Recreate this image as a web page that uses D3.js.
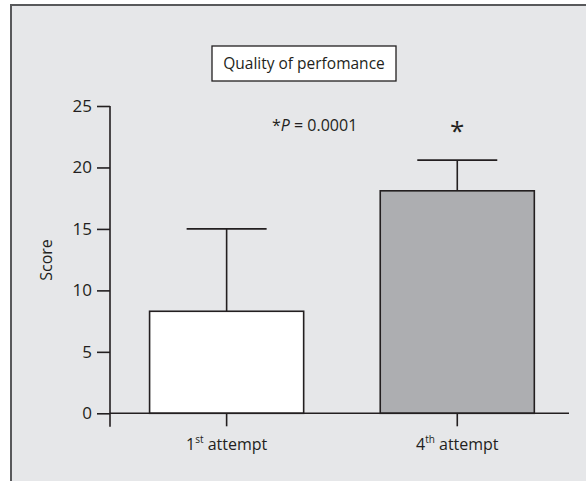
<!DOCTYPE html>
<html><head><meta charset="utf-8">
<script src="https://cdn.jsdelivr.net/npm/d3@7"></script>
<style>
html,body{margin:0;padding:0;background:#fff;}
svg{display:block;font-family:"Open Sans","Noto Sans",sans-serif;}
</style></head>
<body>
<svg id="chart" width="586" height="481"></svg>
<script>
const categories = ["1st", "4th"];
const superscripts = ["st", "th"];
const labelBase = ["1", "4"];
const means = [8.3, 18.1];
const errorTop = [15.0, 20.6];
const barFills = ["#ffffff", "#adaeb1"];
const yTicks = [0, 5, 10, 15, 20, 25];
const titleText = "Quality of perfomance";
const yLabel = "Score";

const svg = d3.select("#chart");
svg.append("rect").attr("x", 11).attr("y", 5).attr("width", 600).attr("height", 500)
  .attr("fill", "#e6e7e9").attr("stroke", "#58595b").attr("stroke-width", 2);

const y = d3.scaleLinear().domain([0, 25]).range([413.3, 106]);
const x = d3.scaleBand().domain(categories).range([111.3, 572.6]).paddingInner(0.332).paddingOuter(0.166);

const axisColor = "#231f20";
const txtColor = "#231f20";

categories.forEach((c, i) => {
  const cx = x(c) + x.bandwidth() / 2;
  svg.append("line").attr("x1", cx).attr("x2", cx).attr("y1", y(means[i])).attr("y2", y(errorTop[i]))
    .attr("stroke", axisColor).attr("stroke-width", 1.6);
  svg.append("line").attr("x1", cx - 40).attr("x2", cx + 40).attr("y1", y(errorTop[i])).attr("y2", y(errorTop[i]))
    .attr("stroke", axisColor).attr("stroke-width", 1.6);
  svg.append("rect").attr("x", x(c)).attr("y", y(means[i])).attr("width", x.bandwidth())
    .attr("height", y(0) - y(means[i])).attr("fill", barFills[i]).attr("stroke", axisColor).attr("stroke-width", 1.6);
});

const yAxis = d3.axisLeft(y).tickValues(yTicks).tickSize(13).tickPadding(5).tickSizeOuter(0);
const gy = svg.append("g").attr("transform", "translate(110,0)").call(yAxis);
gy.attr("font-size", null).attr("font-family", null);
gy.select(".domain").remove();
gy.append("line").attr("x1", 0).attr("x2", 0).attr("y1", y(25)).attr("y2", 426.7)
  .attr("stroke", axisColor).attr("stroke-width", 1.6);
gy.selectAll(".tick line").attr("stroke", axisColor).attr("stroke-width", 1.6);
gy.selectAll(".tick text").attr("fill", txtColor).attr("font-size", 17);

const xAxis = d3.axisBottom(x).tickSize(13).tickFormat(() => "").tickSizeOuter(0);
const gx = svg.append("g").attr("transform", "translate(0,413.3)").call(xAxis);
gx.select(".domain").remove();
gx.append("line").attr("x1", 110).attr("x2", 569).attr("y1", 0).attr("y2", 0)
  .attr("stroke", axisColor).attr("stroke-width", 1.6);
gx.selectAll(".tick line").attr("stroke", axisColor).attr("stroke-width", 1.6);

categories.forEach((c, i) => {
  const cx = x(c) + x.bandwidth() / 2;
  const t = svg.append("text").attr("x", cx).attr("y", 450).attr("text-anchor", "middle")
    .attr("fill", txtColor).attr("font-size", 16);
  t.append("tspan").text(labelBase[i]);
  t.append("tspan").attr("dy", -7).attr("font-size", 10).text(superscripts[i]);
  t.append("tspan").attr("dy", 7).text(" attempt");
});

svg.append("text").attr("transform", "translate(52,260) rotate(-90)").attr("text-anchor", "middle")
  .attr("fill", txtColor).attr("font-size", 16).text(yLabel);

svg.append("rect").attr("x", 212).attr("y", 46).attr("width", 184).attr("height", 35)
  .attr("fill", "#ffffff").attr("stroke", "#231f20").attr("stroke-width", 1.3);
svg.append("text").attr("x", 304).attr("y", 69).attr("text-anchor", "middle")
  .attr("fill", txtColor).attr("font-size", 15.5).text(titleText);

const p = svg.append("text").attr("x", 272).attr("y", 131).attr("fill", txtColor).attr("font-size", 16);
p.append("tspan").text("*");
p.append("tspan").attr("font-style", "italic").text("P");
p.append("tspan").text(" = 0.0001");

svg.append("text").attr("x", x("4th") + x.bandwidth() / 2).attr("y", 140).attr("text-anchor", "middle")
  .attr("fill", txtColor).attr("font-size", 26).text("*");
</script>
</body></html>
